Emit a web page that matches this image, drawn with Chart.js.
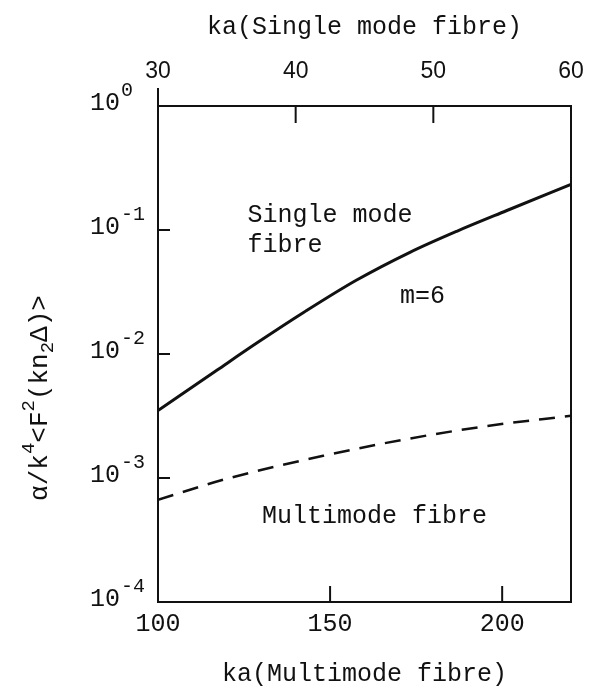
<!DOCTYPE html>
<html>
<head>
<meta charset="utf-8">
<script src="https://cdn.jsdelivr.net/npm/chart.js"></script>
<style>
  html, body { margin: 0; padding: 0; background: #ffffff; }
  #c { display: block; }
</style>
</head>
<body>
<canvas id="c" width="614" height="693"></canvas>
<script>
// ---- Data ----
// Single mode fibre curve (solid, m=6), plotted against the top axis ka(Single mode fibre)
const kaSingleMode = [30, 34.3, 37.2, 40.6, 44.4, 48.3, 51.7, 55.3, 60];
const lossSingleMode = [3.5e-3, 7.43e-3, 1.23e-2, 2.17e-2, 3.93e-2, 6.61e-2, 9.77e-2, 0.143, 0.233];
// Multimode fibre curve (dashed), plotted against the bottom axis ka(Multimode fibre)
const kaMultimode = [100, 120, 148, 171, 195, 220];
const lossMultimode = [6.67e-4, 9.86e-4, 1.51e-3, 2.03e-3, 2.61e-3, 3.18e-3];
// Tick labels
const bottomTicks = [100, 150, 200];
const topTicks = [30, 40, 50, 60];
const yTickValues = [1, 1e-1, 1e-2, 1e-3, 1e-4];
const yTickExponents = ['0', '-1', '-2', '-3', '-4'];

const INK = '#111111';
const MONO = '"Liberation Mono", "DejaVu Sans Mono", monospace';
const SANS = '"Liberation Sans", "DejaVu Sans", sans-serif';

const decorPlugin = {
  id: 'decor',
  afterDraw(chart) {
    const { ctx, chartArea: { left, right, top, bottom }, scales } = chart;
    const x = scales.x, xTop = scales.xTop, y = scales.y;
    ctx.save();
    ctx.strokeStyle = INK;
    ctx.lineWidth = 2;
    const line = (x1, y1, x2, y2) => { ctx.beginPath(); ctx.moveTo(x1, y1); ctx.lineTo(x2, y2); ctx.stroke(); };

    // inward tick marks
    topTicks.forEach(v => {
      const px = xTop.getPixelForValue(v);
      if (v === xTop.min) line(px, top - 18, px, top);
      else if (v < xTop.max) line(px, top, px, top + 17);
    });
    bottomTicks.forEach(v => {
      const px = x.getPixelForValue(v);
      if (v > x.min && v < x.max) line(px, bottom, px, bottom - 16);
    });
    yTickValues.forEach(v => {
      const py = y.getPixelForValue(v);
      if (v < y.max && v > y.min) line(left, py, left + 12, py);
    });

    // y tick labels 10^n
    ctx.fillStyle = INK;
    ctx.textAlign = 'left';
    ctx.textBaseline = 'middle';
    yTickValues.forEach((v, i) => {
      const py = y.getPixelForValue(v) - 3;
      ctx.font = '25px ' + MONO;
      ctx.fillText('10', 90, py);
      ctx.font = '20px ' + MONO;
      ctx.fillText(yTickExponents[i], 90 + 31, py - 12);
    });

    // in-plot annotations (anchored with the data scales)
    ctx.textBaseline = 'alphabetic';
    ctx.font = '25px ' + MONO;
    const notes = [
      { text: 'Single mode', xv: 126, yv: 0.116 },
      { text: 'fibre', xv: 126, yv: 0.0665 },
      { text: 'm=6', xv: 170.3, yv: 0.0258 },
      { text: 'Multimode fibre', xv: 130.2, yv: 4.34e-4 }
    ];
    notes.forEach(n => ctx.fillText(n.text, x.getPixelForValue(n.xv), y.getPixelForValue(n.yv)));

    // rotated y-axis title: α/k⁴<F²(kn₂Δ)>
    const segs = [
      { t: 'α/k', k: 'n' }, { t: '4', k: 'sup' }, { t: '<F', k: 'n' }, { t: '2', k: 'sup' },
      { t: '(kn', k: 'n' }, { t: '2', k: 'sub' }, { t: 'Δ)>', k: 'n' }
    ];
    const fontFor = k => (k === 'n' ? '26px ' : '19px ') + MONO;
    let total = 0;
    segs.forEach(s => { ctx.font = fontFor(s.k); total += ctx.measureText(s.t).width; });
    ctx.translate(40, (top + bottom) / 2 + 44);
    ctx.rotate(-Math.PI / 2);
    ctx.textBaseline = 'middle';
    let cx = -total / 2;
    segs.forEach(s => {
      ctx.font = fontFor(s.k);
      const dy = s.k === 'sup' ? -11 : (s.k === 'sub' ? 8 : 0);
      ctx.fillText(s.t, cx, dy);
      cx += ctx.measureText(s.t).width;
    });
    ctx.restore();
  }
};

new Chart(document.getElementById('c').getContext('2d'), {
  type: 'line',
  data: {
    datasets: [
      {
        label: 'Single mode fibre (m=6)',
        data: kaSingleMode.map((v, i) => ({ x: v, y: lossSingleMode[i] })),
        xAxisID: 'xTop', yAxisID: 'y',
        borderColor: INK, borderWidth: 3, pointRadius: 0,
        cubicInterpolationMode: 'monotone', fill: false
      },
      {
        label: 'Multimode fibre',
        data: kaMultimode.map((v, i) => ({ x: v, y: lossMultimode[i] })),
        xAxisID: 'x', yAxisID: 'y',
        borderColor: INK, borderWidth: 2.5, borderDash: [16, 10], pointRadius: 0,
        cubicInterpolationMode: 'monotone', fill: false
      }
    ]
  },
  options: {
    responsive: false,
    animation: false,
    devicePixelRatio: 1,
    layout: { padding: 0 },
    plugins: { legend: { display: false }, tooltip: { enabled: false } },
    scales: {
      x: {
        type: 'linear', position: 'bottom', min: 100, max: 220,
        afterBuildTicks: s => { s.ticks = bottomTicks.map(v => ({ value: v })); },
        afterFit: s => { s.height = 91; },
        grid: { display: false, drawTicks: false },
        border: { display: true, color: INK, width: 2 },
        ticks: { font: { family: MONO, size: 25 }, color: INK, padding: 7, maxRotation: 0, autoSkip: false },
        title: { display: true, text: 'ka(Multimode fibre)', font: { family: MONO, size: 25 }, color: INK, padding: { top: 0, bottom: 4 } }
      },
      xTop: {
        type: 'linear', position: 'top', min: 30, max: 60,
        afterBuildTicks: s => { s.ticks = topTicks.map(v => ({ value: v })); },
        afterFit: s => { s.height = 106; },
        grid: { display: false, drawTicks: false },
        border: { display: true, color: INK, width: 2 },
        ticks: { font: { family: SANS, size: 23 }, color: INK, padding: 21, maxRotation: 0, autoSkip: false },
        title: { display: true, text: 'ka(Single mode fibre)', font: { family: MONO, size: 25 }, color: INK, padding: { top: 12, bottom: 0 } }
      },
      y: {
        type: 'logarithmic', position: 'left', min: 1e-4, max: 1,
        afterBuildTicks: s => { s.ticks = yTickValues.map(v => ({ value: v })); },
        afterFit: s => { s.width = 158; },
        grid: { display: false, drawTicks: false },
        border: { display: true, color: INK, width: 2 },
        ticks: { display: false }
      },
      yRight: {
        type: 'logarithmic', position: 'right', min: 1e-4, max: 1,
        afterFit: s => { s.width = 43; },
        grid: { display: false, drawTicks: false },
        border: { display: true, color: INK, width: 2 },
        ticks: { display: false }
      }
    }
  },
  plugins: [decorPlugin]
});
</script>
</body>
</html>
